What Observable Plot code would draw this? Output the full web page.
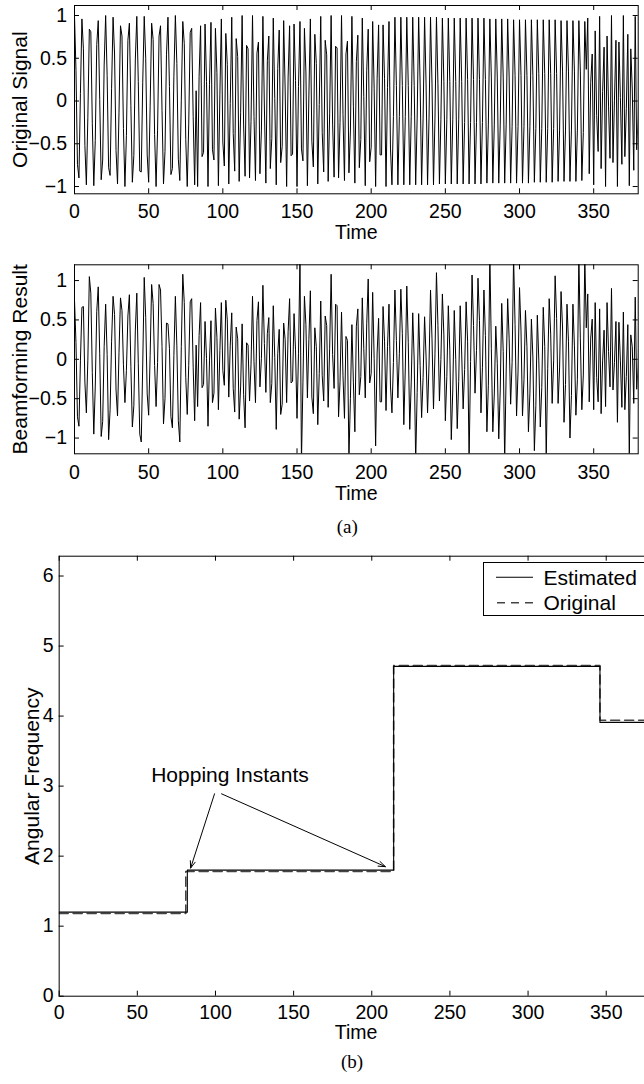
<!DOCTYPE html>
<html><head><meta charset="utf-8">
<script src="https://cdn.jsdelivr.net/npm/d3@7"></script>
<script src="https://cdn.jsdelivr.net/npm/@observablehq/plot@0.6"></script>
<style>
html,body{margin:0;padding:0;background:#fff;overflow:hidden;}
#wrap{position:relative;width:644px;height:1084px;overflow:hidden;background:#fff;font-family:"Liberation Sans",Arial,sans-serif;}
.cap{position:absolute;font-family:"Liberation Serif","Times New Roman",serif;font-size:19px;transform:translate(-50%,-50%);white-space:nowrap;}
#legend{position:absolute;left:482.5px;top:561.5px;width:200px;height:52px;border:1px solid #000;background:#fff;}
#legend svg{position:absolute;left:0;top:0;}
</style></head><body><div id="wrap"></div>
<script>
// ---- data ----
const originalSignal = [
1.00,0.36,-0.74,-0.90,0.09,0.96,0.61,-0.52,-0.98,-0.19,
0.84,0.81,-0.26,-0.99,-0.46,0.66,0.94,0.02,-0.92,-0.69,
0.42,1.00,0.30,-0.78,-0.87,0.15,0.98,0.55,-0.58,-0.97,
-0.13,0.88,0.76,-0.32,-1.00,-0.40,0.71,0.91,-0.05,-0.95,
-0.64,0.48,0.99,0.23,-0.82,-0.83,0.22,0.99,0.50,-0.63,
-0.95,-0.06,0.91,0.72,-0.39,-1.00,-0.34,0.76,0.88,-0.11,
-0.97,-0.59,0.54,0.98,0.17,-0.86,-0.79,0.29,1.00,0.44,
-0.68,-0.93,0.01,0.93,0.67,-0.45,-1.00,-0.27,0.80,0.85,
-0.18,-0.98,
0.12,-1.00,0.29,0.88,-0.65,-0.60,0.90,0.23,
-1.00,0.19,0.92,-0.57,-0.69,0.85,0.33,-0.99,0.08,0.96,
-0.48,-0.76,0.79,0.43,-0.97,-0.03,0.98,-0.38,-0.82,0.73,
0.52,-0.94,-0.13,1.00,-0.28,-0.88,0.65,0.61,-0.90,-0.24,
1.00,-0.18,-0.93,0.56,0.69,-0.85,-0.34,0.99,-0.07,-0.96,
0.47,0.76,-0.79,-0.44,0.97,0.03,-0.98,0.38,0.83,-0.72,
-0.53,0.94,0.14,-1.00,0.28,0.88,-0.64,-0.62,0.90,0.24,
-1.00,0.17,0.93,-0.56,-0.70,0.85,0.34,-0.99,0.07,0.96,
-0.47,-0.77,0.78,0.44,-0.97,-0.04,0.99,-0.37,-0.83,0.71,
0.54,-0.94,-0.15,1.00,-0.27,-0.89,0.64,0.62,-0.90,-0.25,
1.00,-0.16,-0.93,0.55,0.70,-0.84,-0.35,0.99,-0.06,-0.96,
0.46,0.77,-0.78,-0.45,0.97,0.05,-0.99,0.36,0.84,-0.71,
-0.54,0.93,0.15,-1.00,0.26,0.89,-0.63,-0.63,0.89,0.26,
-1.00,0.16,0.93,-0.55,
-0.98,-0.18,0.98,0.18,-0.98,-0.18,0.98,0.18,-0.98,-0.18,0.98,0.18,-0.98,-0.18,0.98,0.18,
-0.98,-0.20,0.98,0.20,-0.98,-0.20,0.98,0.20,-0.98,-0.20,0.98,0.20,-0.98,-0.20,0.98,0.20,
-0.97,-0.22,0.97,0.23,-0.97,-0.22,0.97,0.23,-0.97,-0.22,0.97,0.23,-0.97,-0.22,0.97,0.23,
-0.97,-0.25,0.97,0.25,-0.97,-0.25,0.97,0.25,-0.97,-0.25,0.97,0.25,-0.97,-0.25,0.97,0.25,
-0.96,-0.27,0.96,0.28,-0.96,-0.27,0.96,0.28,-0.96,-0.27,0.96,0.28,-0.96,-0.27,0.96,0.28,
-0.96,-0.30,0.95,0.30,-0.96,-0.30,0.95,0.30,-0.96,-0.30,0.95,0.30,-0.96,-0.30,0.95,0.30,
-0.95,-0.32,0.95,0.32,-0.95,-0.32,0.95,0.32,-0.95,-0.32,0.95,0.32,-0.95,-0.32,0.95,0.32,
-0.94,-0.34,0.94,0.35,-0.94,-0.34,0.94,0.35,-0.94,-0.34,0.94,0.35,-0.94,-0.34,0.94,0.35,
-0.93,-0.37,0.93,0.37,
0.97,-0.85,0.22,0.55,-0.98,0.82,-0.17,-0.59,0.99,-0.79,0.11,0.63,-1.00,0.76,-0.06,-0.67,
1.00,-0.72,0.01,0.71,-1.00,0.69,0.04,-0.74,1.00,-0.65,-0.09,0.78,-0.99,0.61,0.14,-0.81,
0.99,-0.57,-0.19,0.84,-0.98,0.52,0.24
];
const beamformingResult = [
0.75,0.21,-0.73,-0.85,-0.02,0.66,0.67,-0.29,-0.68,-0.01,
1.05,0.84,-0.17,-0.95,-0.34,0.61,0.92,0.07,-0.98,-0.79,
0.16,0.70,0.06,-1.02,-0.64,0.23,0.80,0.57,-0.39,-0.72,
0.09,0.78,0.62,-0.07,-0.55,-0.14,0.55,0.82,-0.09,-0.86,
-0.59,0.36,0.84,-0.05,-0.95,-1.05,-0.06,1.04,0.53,-0.44,
-0.71,0.05,0.95,0.71,-0.08,-0.60,-0.04,0.95,0.88,0.16,
-0.82,-0.50,0.46,0.45,0.14,-0.73,-0.87,0.05,0.80,0.17,
-0.78,-1.05,0.16,1.08,0.72,-0.23,-0.70,-0.08,0.73,0.77,
-0.10,-0.78,
0.18,-0.60,0.30,0.72,-0.36,-0.32,0.48,0.01,
-0.85,-0.02,0.49,-0.55,-0.43,0.65,0.28,-0.64,0.11,0.72,
-0.14,-0.33,0.75,0.50,-0.48,0.18,0.59,-0.37,-0.67,0.41,
0.26,-0.76,-0.34,0.45,-0.45,-0.87,0.21,0.18,-0.53,-0.07,
0.80,-0.03,-0.55,0.49,0.73,-0.35,0.01,0.94,0.20,-0.42,
0.33,0.53,-0.55,-0.31,0.68,0.02,-0.89,0.07,0.38,-0.70,
-0.57,0.46,0.25,-0.55,0.35,0.77,-0.30,-0.28,0.58,0.12,
-0.75,0.07,1.30,-1.30,-0.29,0.80,0.44,-0.49,0.25,0.87,
-0.48,-0.69,0.40,0.16,-0.83,-0.18,0.74,-0.21,-0.53,0.55,
0.43,-0.61,0.14,1.08,0.06,-0.37,0.70,0.68,-0.73,-0.28,
0.60,-0.21,-0.75,0.29,0.24,-1.25,-0.50,0.44,-0.29,-0.92,
0.42,0.64,-0.45,-0.22,0.78,0.14,-0.49,0.45,1.02,-0.30,
-0.18,0.85,0.01,-1.10,0.08,0.52,-0.54,-0.54,0.67,0.23,
-0.65,0.16,0.70,-0.34,
-0.68,-0.04,0.88,0.24,-0.49,0.07,0.89,0.33,-0.83,-0.11,0.93,0.21,-0.89,-0.29,0.59,-0.01,
-1.30,-0.42,0.58,-0.08,-0.74,-0.23,0.54,0.03,-0.68,-0.06,0.88,0.26,-0.63,0.07,1.10,0.43,
-0.53,0.00,0.83,0.31,-0.78,-0.22,0.68,0.12,-1.02,-0.39,0.62,0.00,-0.88,-0.28,0.68,0.08,
-0.63,-0.13,0.73,0.23,-1.30,-0.03,1.07,0.43,-0.43,0.11,1.03,0.49,-0.68,-0.10,0.88,0.30,
-0.92,-0.33,1.35,0.14,-0.92,-0.44,0.42,-0.05,-1.01,-0.39,0.71,0.10,-1.30,-0.15,0.77,0.26,
-0.57,-0.04,1.30,0.44,-0.72,-0.16,0.91,0.36,-0.72,-0.26,0.62,0.16,-0.92,-0.43,0.51,0.03,
-1.16,-0.59,0.56,-0.01,-0.86,-0.36,0.66,0.16,-1.25,-0.12,0.77,0.32,-0.56,-0.02,1.06,0.52,
-0.56,-0.11,0.86,0.41,-0.80,-0.32,0.70,0.23,-1.00,-0.46,0.70,0.17,-0.71,-0.26,1.30,0.26,
-0.64,-0.20,1.30,0.40,
0.83,-0.54,0.27,0.51,-0.64,0.72,-0.23,-0.54,0.64,-0.69,-0.02,0.37,-0.60,0.72,0.10,-0.35,
0.90,-0.39,-0.04,0.48,-0.80,0.47,-0.02,-0.61,0.60,-0.64,-0.22,0.44,-1.25,0.31,0.16,-0.56,
0.79,-0.38,-0.09,0.68,-0.64,0.49,0.28
];
const timeTicks = [0, 50, 100, 150, 200, 250, 300, 350];
const signalTicks = [-1, -0.5, 0, 0.5, 1];
const freqTicks = [0, 1, 2, 3, 4, 5, 6];
const estimatedHopTimes = [0, 82, 214, 346];
const estimatedFreqs = [1.20, 1.80, 4.71, 3.91];
const originalHopTimes = [0, 81, 214, 346];
const originalFreqs = [1.18, 1.78, 4.72, 3.94];
const endTime = 384;
const seriesNames = ["Estimated", "Original"];
const noteLabel = [{text: "Hopping Instants", time: 109.3, freq: 3.15}];
const noteArrows = [
  {t1: 99.4, f1: 2.89, t2: 84.1, f2: 1.83},
  {t1: 103.9, f1: 2.89, t2: 208.7, f2: 1.85}
];

// ---- drawing ----
const FONT = "Liberation Sans, Arial, Helvetica, sans-serif";
const wrap = document.getElementById("wrap");
const numFmt = d3.format("~g");

function place(svg, top) {
  svg.style.position = "absolute";
  svg.style.left = "0px";
  svg.style.top = top + "px";
  wrap.appendChild(svg);
}

function signalPanel({values, label, yDomain, top, height, mTop, mBottom, tickPad, timeDy}) {
  const W = 644, mL = 74, mR = 6.3;
  const innerH = height - mTop - mBottom, innerW = W - mL - mR;
  const data = values.map((v, i) => ({time: i, value: v}));
  const svg = Plot.plot({
    width: W, height, marginTop: mTop, marginBottom: mBottom, marginLeft: mL, marginRight: mR,
    style: {fontFamily: FONT, fontSize: "19.5px", color: "#000", background: "transparent", overflow: "visible", maxWidth: "none"},
    x: {domain: [0, 380], label: null},
    y: {domain: yDomain, label: null},
    marks: [
      Plot.line(data, {x: "time", y: "value", stroke: "#000", strokeWidth: 1, clip: true}),
      Plot.frame({stroke: "#000", strokeWidth: 1}),
      Plot.tickX(timeTicks, {x: d => d, insetTop: innerH - 5, stroke: "#000"}),
      Plot.tickX(timeTicks, {x: d => d, insetBottom: innerH - 5, stroke: "#000"}),
      Plot.tickY(signalTicks, {y: d => d, insetRight: innerW - 5, stroke: "#000"}),
      Plot.tickY(signalTicks, {y: d => d, insetLeft: innerW - 5, stroke: "#000"}),
      Plot.axisX({ticks: timeTicks, tickSize: 0, tickPadding: tickPad, label: null, tickFormat: numFmt}),
      Plot.axisY({ticks: signalTicks, tickSize: 0, tickPadding: 7.5, label: null, tickFormat: numFmt}),
      Plot.text(["Time"], {frameAnchor: "bottom", dy: timeDy, text: d => d, fontSize: 19.5, textAnchor: "middle", lineAnchor: "middle"}),
      Plot.text([label], {frameAnchor: "left", dx: -54, rotate: -90, text: d => d, fontSize: 21, textAnchor: "middle", lineAnchor: "middle"})
    ]
  });
  place(svg, top);
}

signalPanel({values: originalSignal, label: "Original Signal", yDomain: [-1.085, 1.117],
  top: 0, height: 245, mTop: 5, mBottom: 245 - 193.3, tickPad: 10.4, timeDy: 38.5});
signalPanel({values: beamformingResult, label: "Beamforming Result", yDomain: [-1.2, 1.2],
  top: 250, height: 260, mTop: 14.3, mBottom: 510 - 453.3, tickPad: 11.2, timeDy: 39.5});

// panel (b)
{
  const W = 660, H = 564, mL = 58.67, mR = W - (58.67 + 380 * 1.563), mT = 35.7, mB = 88.3;
  const innerH = H - mT - mB, innerW = W - mL - mR;
  const est = estimatedHopTimes.map((t, i) => ({time: t, freq: estimatedFreqs[i]}))
    .concat([{time: endTime, freq: estimatedFreqs[estimatedFreqs.length - 1]}]);
  const orig = originalHopTimes.map((t, i) => ({time: t, freq: originalFreqs[i]}))
    .concat([{time: endTime, freq: originalFreqs[originalFreqs.length - 1]}]);
  const svg = Plot.plot({
    width: W, height: H, marginTop: mT, marginBottom: mB, marginLeft: mL, marginRight: mR,
    style: {fontFamily: FONT, fontSize: "19.5px", color: "#000", background: "transparent", overflow: "visible", maxWidth: "none"},
    x: {domain: [0, 380], label: null},
    y: {domain: [0, 2 * Math.PI], label: null},
    marks: [
      Plot.line(orig, {x: "time", y: "freq", curve: "step-after", stroke: "#444", strokeWidth: 1.6, strokeDasharray: "9,5", clip: true}),
      Plot.line(est, {x: "time", y: "freq", curve: "step-after", stroke: "#000", strokeWidth: 1.1, clip: true}),
      Plot.frame({stroke: "#000", strokeWidth: 1}),
      Plot.tickX(timeTicks, {x: d => d, insetTop: innerH - 5, stroke: "#000"}),
      Plot.tickX(timeTicks, {x: d => d, insetBottom: innerH - 5, stroke: "#000"}),
      Plot.tickY(freqTicks, {y: d => d, insetRight: innerW - 5, stroke: "#000"}),
      Plot.tickY(freqTicks, {y: d => d, insetLeft: innerW - 5, stroke: "#000"}),
      Plot.axisX({ticks: timeTicks, tickSize: 0, tickPadding: 9.4, label: null, tickFormat: numFmt}),
      Plot.axisY({ticks: freqTicks, tickSize: 0, tickPadding: 5.5, label: null, tickFormat: numFmt}),
      Plot.text(["Time"], {frameAnchor: "bottom", dy: 37, text: d => d, fontSize: 19.5, textAnchor: "middle", lineAnchor: "middle"}),
      Plot.text(["Angular Frequency"], {frameAnchor: "left", dx: -27, rotate: -90, text: d => d, fontSize: 21, textAnchor: "middle", lineAnchor: "middle"}),
      Plot.text(noteLabel, {x: "time", y: "freq", text: "text", fontSize: 21}),
      Plot.arrow(noteArrows, {x1: "t1", y1: "f1", x2: "t2", y2: "f2", stroke: "#000", strokeWidth: 1, headLength: 11, headAngle: 40})
    ]
  });
  place(svg, 520);
}

// legend
const leg = document.createElement("div");
leg.id = "legend";
leg.innerHTML = `<svg width="200" height="52">
  <line x1="12" x2="49" y1="14.3" y2="14.3" stroke="#000" stroke-width="1.1"/>
  <line x1="13" x2="49" y1="39.7" y2="39.7" stroke="#444" stroke-width="1.6" stroke-dasharray="8,6"/>
  <text x="59.5" y="14.3" dy="0.35em" font-family="${FONT}" font-size="21">${seriesNames[0]}</text>
  <text x="59.5" y="39.7" dy="0.35em" font-family="${FONT}" font-size="21">${seriesNames[1]}</text>
</svg>`;
wrap.appendChild(leg);

// captions
for (const [txt, x, y] of [["(a)", 347.3, 526.7], ["(b)", 352, 1062]]) {
  const d = document.createElement("div");
  d.className = "cap";
  d.textContent = txt;
  d.style.left = x + "px";
  d.style.top = y + "px";
  wrap.appendChild(d);
}
</script></body></html>
